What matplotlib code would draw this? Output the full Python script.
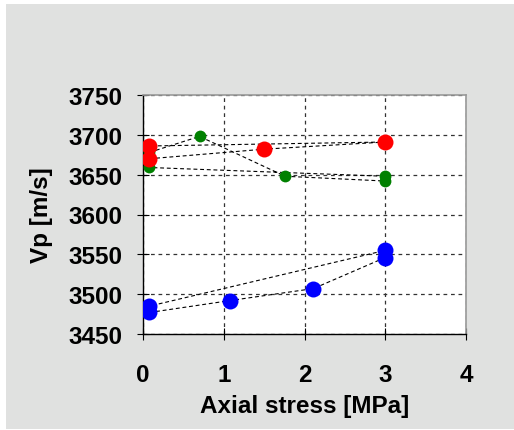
import matplotlib
matplotlib.use("Agg")
import matplotlib.pyplot as plt
from matplotlib.patches import Rectangle

plt.rcParams['font.family'] = ['Liberation Sans', 'DejaVu Sans']
plt.rcParams['font.weight'] = 'bold'

# axial stress [MPa] and P-wave velocity [m/s], in measurement order
stress_red = [0.08, 1.5, 3.0, 0.08]
vp_red = [3670, 3682, 3691, 3686]

stress_green = [0.08, 0.7, 1.76, 3.0, 3.0, 0.08]
vp_green = [3678, 3698, 3648, 3642, 3648, 3659]

stress_blue = [0.08, 1.08, 2.11, 3.0, 3.0, 0.08]
vp_blue = [3477, 3492, 3507, 3546, 3555, 3485]

fig = plt.figure(figsize=(5.14, 4.31), dpi=100, facecolor='white')
fig.patches.append(Rectangle((6 / 514, 1 / 431), 1, 425 / 431, transform=fig.transFigure,
                             facecolor='#e0e1e0', edgecolor='none', zorder=-10))
ax = fig.add_axes([143 / 514, 96 / 431, 323 / 514, 239 / 431])
ax.set_facecolor('white')

dash = dict(color='black', lw=0.8, ls=(0, (3.5, 2.5)), zorder=2)
ax.plot(stress_green, vp_green, **dash)
ax.plot(stress_red, vp_red, **dash)
ax.plot(stress_blue, vp_blue, **dash)

ax.plot(stress_green, vp_green, 'o', color='#008000', ms=8.5, mec='none', zorder=3)
ax.plot(stress_red, vp_red, 'o', color='#ff0000', ms=11.5, mec='none', zorder=4)
ax.plot(stress_blue, vp_blue, 'o', color='#0000ff', ms=11.5, mec='none', zorder=4)

ax.set_xlim(0, 4)
ax.set_ylim(3450, 3750)
ax.set_xticks([0, 1, 2, 3, 4])
ax.set_yticks(range(3450, 3751, 50))
ax.grid(True, color='#333333', ls=(0, (3, 3)), lw=0.9, zorder=1)
ax.set_axisbelow(True)

for s in ['top', 'right']:
    ax.spines[s].set_color('#999999')
    ax.spines[s].set_linewidth(1.2)
for s in ['left', 'bottom']:
    ax.spines[s].set_color('black')
    ax.spines[s].set_linewidth(1.0)

ax.tick_params(direction='inout', length=8, width=0.8, labelsize=17.5)
ax.tick_params(axis='x', pad=17)
ax.tick_params(axis='y', pad=11)

ax.set_xlabel('Axial stress [MPa]', fontsize=17.5, fontweight='bold', labelpad=5.5)
ax.set_ylabel('Vp [m/s]', fontsize=17.5, fontweight='bold', labelpad=11)

fig.savefig('out.png', dpi=100)
